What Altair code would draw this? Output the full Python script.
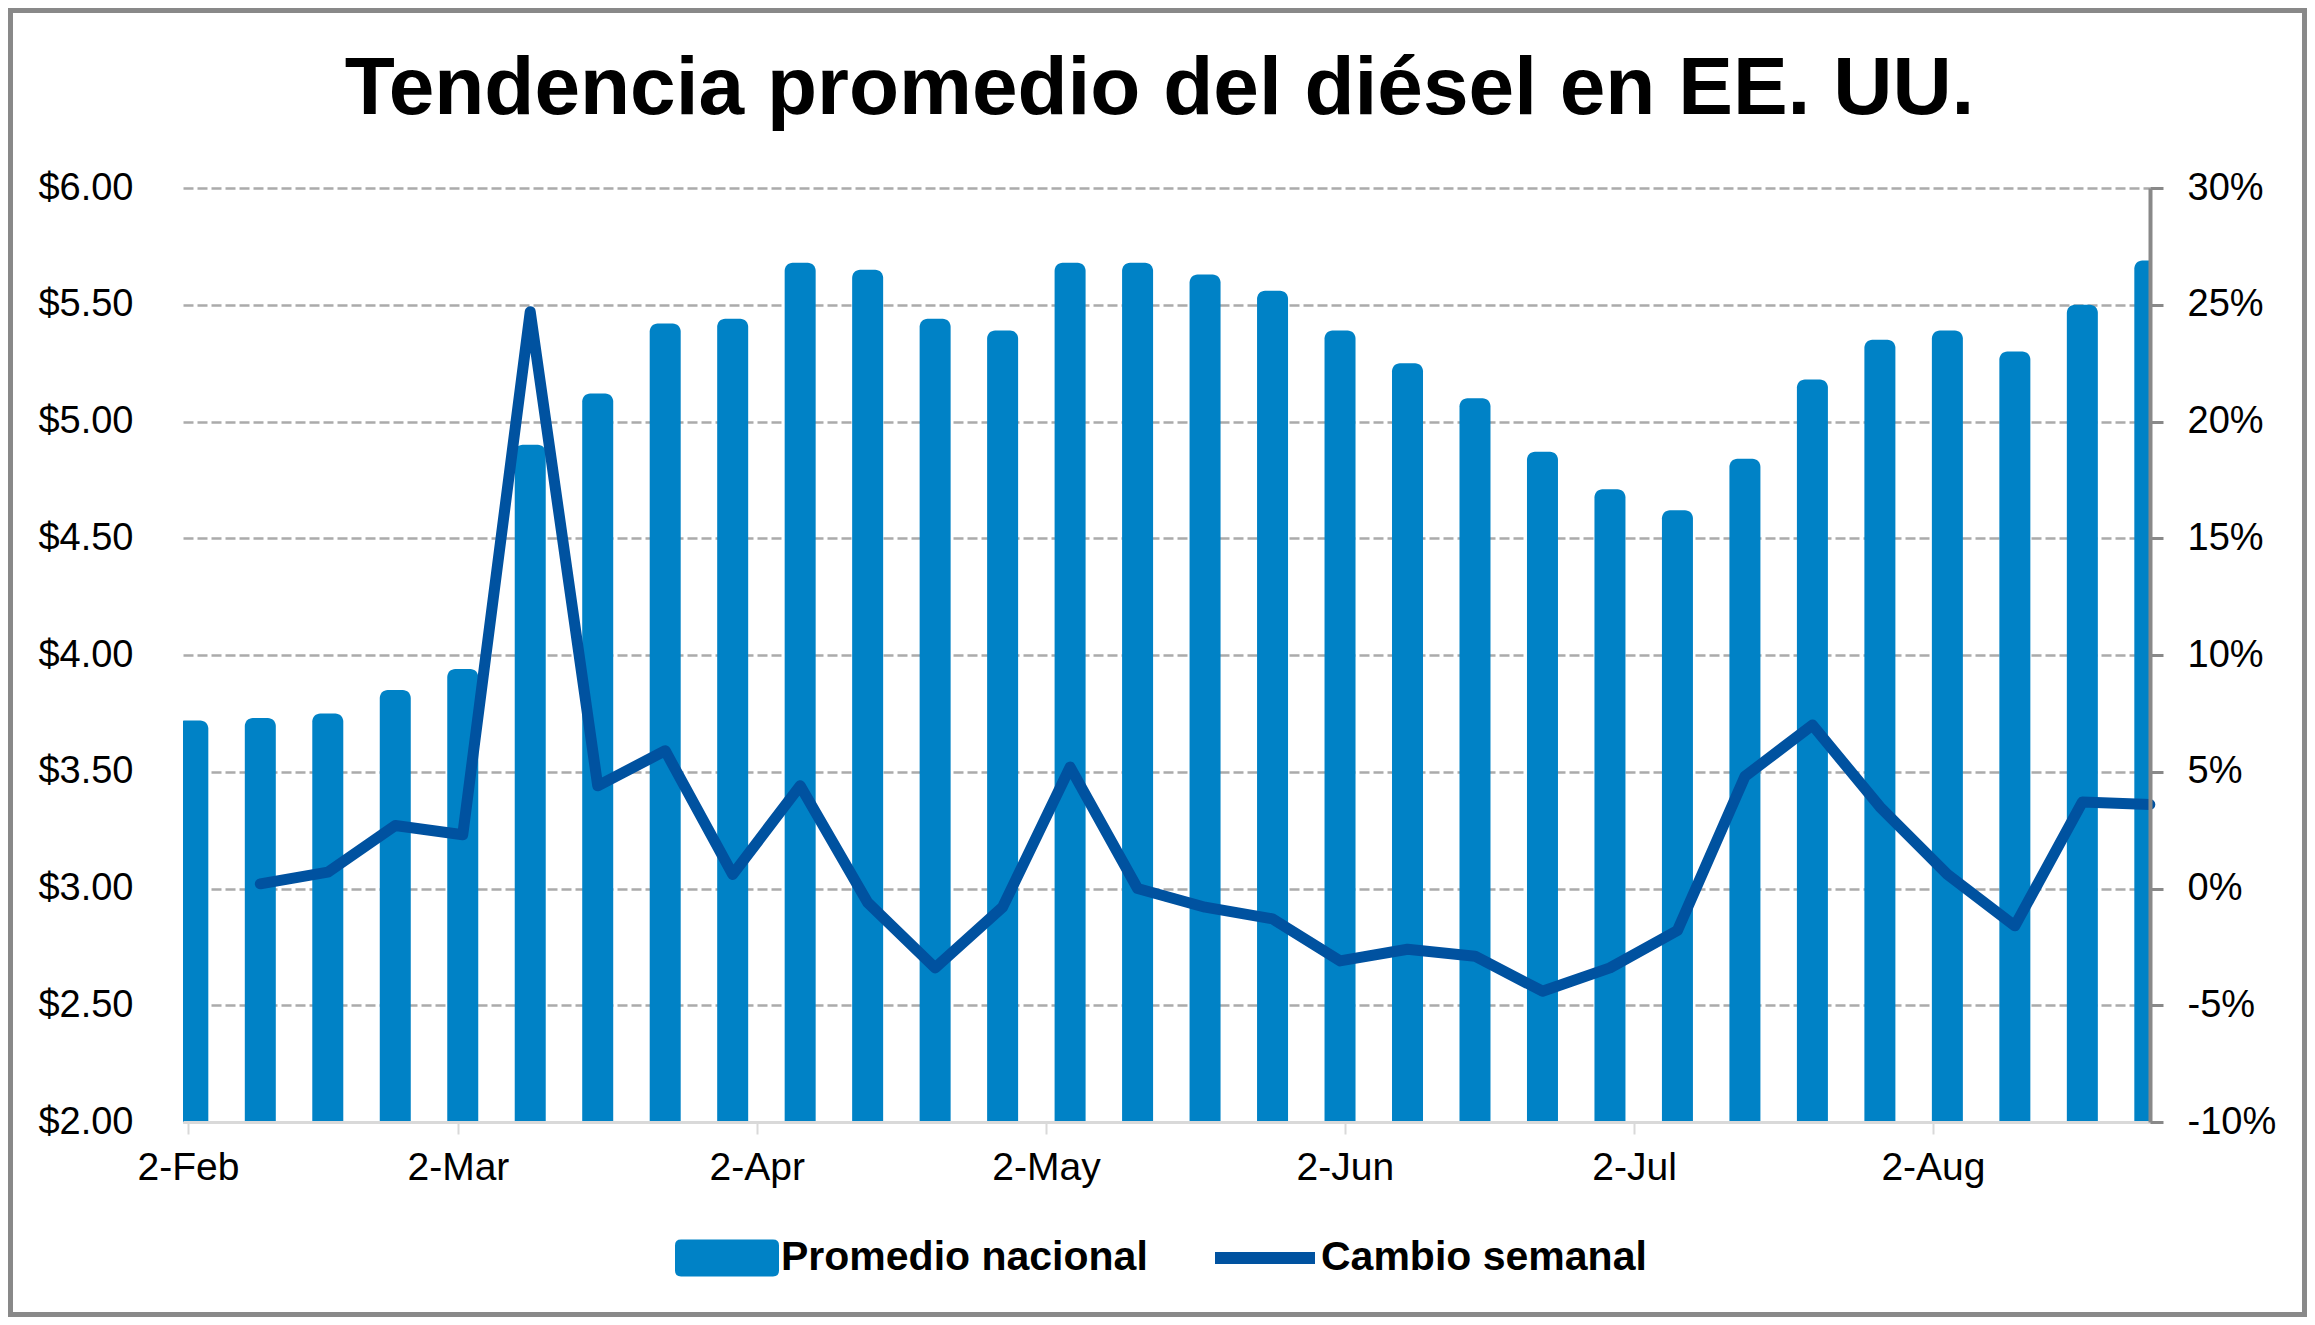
import altair as alt
import pandas as pd

# ---- data ----
weeks = ["2022-02-02", "2022-02-09", "2022-02-16", "2022-02-23", "2022-03-02",
         "2022-03-09", "2022-03-16", "2022-03-23", "2022-03-30", "2022-04-06",
         "2022-04-13", "2022-04-20", "2022-04-27", "2022-05-04", "2022-05-11",
         "2022-05-18", "2022-05-25", "2022-06-01", "2022-06-08", "2022-06-15",
         "2022-06-22", "2022-06-29", "2022-07-06", "2022-07-13", "2022-07-20",
         "2022-07-27", "2022-08-03", "2022-08-10", "2022-08-17", "2022-08-24"]

prices = [3.72, 3.73, 3.75, 3.85, 3.94, 4.90, 5.12, 5.42, 5.44, 5.68,
          5.65, 5.44, 5.39, 5.68, 5.68, 5.63, 5.56, 5.39, 5.25, 5.10,
          4.87, 4.71, 4.62, 4.84, 5.18, 5.35, 5.39, 5.30, 5.50, 5.69]

# weekly change in percent (first week has no change)
change_weeks = weeks[1:]
changes = [0.2, 0.7, 2.7, 2.3, 24.7, 4.4, 5.9, 0.6, 4.4,
           -0.6, -3.4, -0.8, 5.2, 0.0, -0.8, -1.3, -3.1, -2.6, -2.9,
           -4.4, -3.4, -1.8, 4.8, 7.0, 3.5, 0.6, -1.6, 3.7, 3.6]

price_ticks = [2.0, 2.5, 3.0, 3.5, 4.0, 4.5, 5.0, 5.5, 6.0]
pct_ticks = [-10, -5, 0, 5, 10, 15, 20, 25, 30]
month_ticks = [(2, 2), (3, 2), (4, 2), (5, 2), (6, 2), (7, 2), (8, 2)]

series_bar = "Promedio nacional"
series_line = "Cambio semanal"
title_text = "Tendencia promedio del diésel en EE. UU."

# ---- styling ----
FONT = "Liberation Sans"
BAR_COLOR = "#0082C6"
LINE_COLOR = "#0052A0"
W, H = 1967, 934

half_day = pd.Timedelta(hours=12)
bars_df = pd.DataFrame({
    "date": pd.to_datetime(weeks) + half_day,
    "price": prices,
    "serie": series_bar,
})
line_df = pd.DataFrame({
    "date": pd.to_datetime(change_weeks) + half_day,
    "change": changes,
    "serie": series_line,
})

x_scale = alt.Scale(domain=[alt.DateTime(year=2022, month=2, date=2),
                            alt.DateTime(year=2022, month=8, date=24)])
x_axis = alt.Axis(
    values=[alt.DateTime(year=2022, month=m, date=d) for m, d in month_ticks],
    format="%-d-%b", formatType="time", title=None, grid=False,
    labelFontSize=39, labelColor="#000000", labelFont=FONT, labelPadding=14,
    domainColor="#D9D9D9", domainWidth=3, tickColor="#D9D9D9", tickWidth=2,
    tickSize=12, zindex=1,
)

bar_legend_path = ("M-0.885,-0.356 L0.885,-0.356 Q1,-0.356 1,-0.241 L1,0.241 "
                   "Q1,0.356 0.885,0.356 L-0.885,0.356 Q-1,0.356 -1,0.241 "
                   "L-1,-0.241 Q-1,-0.356 -0.885,-0.356 Z")

bars = alt.Chart(bars_df).mark_bar(
    size=31, orient="vertical", cornerRadiusTopLeft=8, cornerRadiusTopRight=8,
    clip=True
).encode(
    x=alt.X("date:T", scale=x_scale, axis=x_axis),
    y=alt.Y("price:Q",
            scale=alt.Scale(domain=[2, 6], zero=False, nice=False),
            axis=alt.Axis(values=price_ticks, format="$.2f", title=None,
                          orient="left", domain=False, ticks=False, tickSize=0,
                          labelPadding=50, labelFontSize=38, labelColor="#000000",
                          labelFont=FONT, grid=True, gridColor="#ABABAB",
                          gridDash=[10, 4], gridWidth=2.5)),
    y2=alt.datum(2.0),
    color=alt.Color("serie:N",
                    scale=alt.Scale(domain=[series_bar], range=[BAR_COLOR]),
                    legend=alt.Legend(
                        title=None, orient="none", legendX=492, legendY=1018,
                        symbolType=bar_legend_path, symbolSize=10816,
                        symbolStrokeWidth=0, labelFont=FONT, labelFontSize=41,
                        labelFontWeight="bold", labelColor="#000000",
                        labelOffset=2, labelLimit=1000, padding=0)),
)

line = alt.Chart(line_df).mark_line(
    strokeWidth=11, strokeCap="round", strokeJoin="round"
).encode(
    x=alt.X("date:T", scale=x_scale, axis=x_axis),
    y=alt.Y("change:Q",
            scale=alt.Scale(domain=[-10, 30], nice=False),
            axis=alt.Axis(values=pct_ticks, labelExpr="datum.value + '%'",
                          title=None, orient="right", grid=False,
                          domainColor="#898989", domainWidth=4,
                          tickColor="#898989", tickWidth=3, tickSize=13,
                          labelPadding=24, labelFontSize=38, labelColor="#000000",
                          labelFont=FONT, zindex=1)),
    color=alt.Color("serie:N",
                    scale=alt.Scale(domain=[series_line], range=[LINE_COLOR]),
                    legend=alt.Legend(
                        title=None, orient="none", legendX=1026, legendY=1014,
                        symbolType="stroke", symbolSize=10000,
                        symbolStrokeWidth=12, labelFont=FONT, labelFontSize=41,
                        labelFontWeight="bold", labelColor="#000000",
                        labelOffset=0, labelLimit=1000, padding=0)),
)

frame = alt.Chart(alt.Data(values=[{"k": 1}])).mark_rect(
    fill="transparent", stroke="#898989", strokeWidth=5
).encode(
    x=alt.value(-172.5), x2=alt.value(W + 157 - 2.5),
    y=alt.value(-177.5), y2=alt.value(H + 195 - 2.5),
)

chart = alt.layer(bars, line, frame).resolve_scale(
    y="independent", color="independent"
).resolve_legend(color="independent").properties(
    width=W, height=H,
    padding={"left": 175, "top": 180, "right": 157, "bottom": 195},
    autosize=alt.AutoSizeParams(type="none"),
    title=alt.TitleParams(text=title_text, font=FONT, fontSize=82,
                          fontWeight="bold", color="#000000", anchor="middle",
                          baseline="alphabetic", frame="group", offset=-188,
                          dx=-7),
).configure(font=FONT, background="#FFFFFF").configure_view(stroke="transparent")

chart.save("out.html", embed_options={"renderer": "svg", "actions": False})
